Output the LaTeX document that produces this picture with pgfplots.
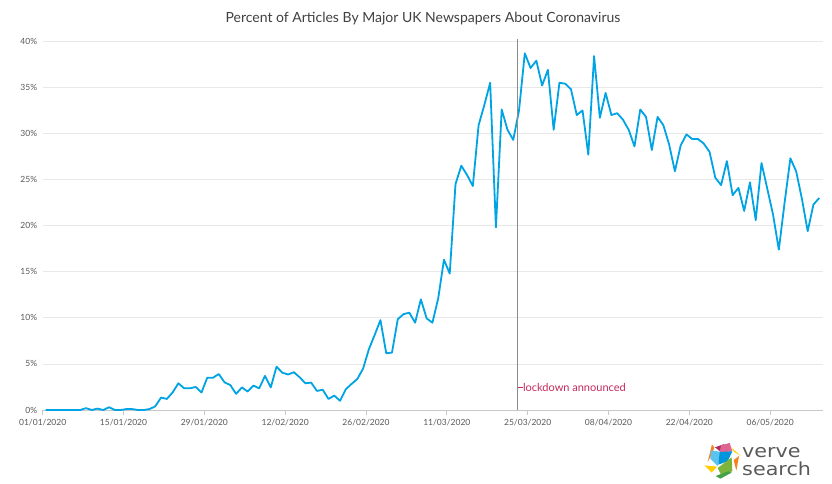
\documentclass[border=0pt]{standalone}
\usepackage{pgfplots}
\pgfplotsset{compat=1.18}
\usepackage{fontspec}
\setmainfont{Lato}
\newfontfamily\logofont{DejaVu Sans}
\definecolor{lineblue}{RGB}{0,163,228}
\definecolor{titlegray}{RGB}{64,64,64}
\definecolor{tickgray}{RGB}{89,89,89}
\definecolor{gridgray}{RGB}{232,232,232}
\definecolor{axisgray}{RGB}{200,200,200}
\definecolor{lockred}{RGB}{196,40,90}
\definecolor{vorange}{RGB}{245,130,32}
\definecolor{vmagenta}{RGB}{176,40,100}
\definecolor{vpink}{RGB}{222,100,150}
\definecolor{vyellow}{RGB}{255,205,0}
\definecolor{vlblue}{RGB}{90,195,240}
\definecolor{vblue}{RGB}{0,150,220}
\definecolor{vgreen}{RGB}{125,180,60}
\definecolor{vdgreen}{RGB}{70,160,70}
\begin{document}
\begin{tikzpicture}
\useasboundingbox (0,0) rectangle (832pt,484pt);
\node[text=titlegray, font=\fontsize{14}{16}\selectfont] at (423pt,465pt) {Percent of Articles By Major UK Newspapers About Coronavirus};
\begin{axis}[
  at={(42.7pt,74pt)}, anchor=south west,
  scale only axis, width=780pt, height=368.7pt,
  xmin=0, xmax=135.1, ymin=0, ymax=40,
  axis x line*=bottom, axis y line*=left,
  y axis line style={draw=none},
  x axis line style={draw=axisgray, line width=0.8pt},
  xtick={0,14,28,42,56,70,84,98,112,126},
  xticklabels={01/01/2020,15/01/2020,29/01/2020,12/02/2020,26/02/2020,11/03/2020,25/03/2020,08/04/2020,22/04/2020,06/05/2020},
  ytick={0,5,10,15,20,25,30,35,40},
  yticklabels={0\%,5\%,10\%,15\%,20\%,25\%,30\%,35\%,40\%},
  xtick align=outside,
  major tick length=5pt,
  x tick style={draw=axisgray, line width=0.8pt},
  y tick style={draw=none},
  ymajorgrids, grid style={draw=gridgray, line width=0.8pt},
  tick label style={text=tickgray, font=\fontsize{8.5}{10}\selectfont},
  yticklabel style={anchor=east, xshift=-2pt},
  xticklabel style={yshift=-1pt},
  /pgf/number format/assume math mode=true,
  clip=false,
]
\addplot[lineblue, line width=1.8pt, line join=round] table {
x y
0.5 0
1.5 0
2.5 0
3.5 0
4.5 0
5.5 0
6.5 0
7.5 0.2
8.5 0
9.5 0.15
10.5 0
11.5 0.3
12.5 0
13.5 0
14.5 0.1
15.5 0.1
16.5 0
17.5 0
18.5 0.1
19.5 0.4
20.5 1.35
21.5 1.2
22.5 1.9
23.5 2.9
24.5 2.35
25.5 2.35
26.5 2.5
27.5 1.9
28.5 3.5
29.5 3.5
30.5 3.9
31.5 3.0
32.5 2.7
33.5 1.75
34.5 2.45
35.5 2.0
36.5 2.65
37.5 2.35
38.5 3.7
39.5 2.45
40.5 4.7
41.5 4.05
42.5 3.85
43.5 4.1
44.5 3.55
45.5 2.9
46.5 2.97
47.5 2.07
48.5 2.2
49.5 1.2
50.5 1.56
51.5 1.0
52.5 2.25
53.5 2.83
54.5 3.37
55.5 4.5
56.5 6.6
57.5 8.15
58.5 9.75
59.5 6.16
60.5 6.23
61.5 9.85
62.5 10.4
63.5 10.56
64.5 9.47
65.5 12.0
66.5 9.94
67.5 9.47
68.5 12.1
69.5 16.3
70.5 14.8
71.5 24.5
72.5 26.5
73.5 25.5
74.5 24.3
75.5 30.9
76.5 33.1
77.5 35.5
78.5 19.8
79.5 32.6
80.5 30.4
81.5 29.3
82.5 32.5
83.5 38.7
84.5 37.1
85.5 37.9
86.5 35.2
87.5 36.9
88.5 30.4
89.5 35.5
90.5 35.4
91.5 34.8
92.5 32.0
93.5 32.5
94.5 27.7
95.5 38.4
96.5 31.7
97.5 34.4
98.5 32.0
99.5 32.2
100.5 31.5
101.5 30.4
102.5 28.6
103.5 32.6
104.5 31.8
105.5 28.2
106.5 31.8
107.5 30.9
108.5 28.8
109.5 25.9
110.5 28.7
111.5 29.9
112.5 29.4
113.5 29.4
114.5 28.9
115.5 28.0
116.5 25.2
117.5 24.4
118.5 27.0
119.5 23.3
120.5 24.1
121.5 21.6
122.5 24.7
123.5 20.6
124.5 26.8
125.5 24.0
126.5 21.2
127.5 17.4
128.5 22.5
129.5 27.3
130.5 25.9
131.5 22.9
132.5 19.4
133.5 22.3
134.5 23.0
};
\draw[black!45, line width=0.7pt] (axis cs:82.25,0) -- (axis cs:82.25,40.3);
\draw[lockred, line width=0.6pt] (axis cs:82.25,2.46) -- (axis cs:83.15,2.46)
  node[anchor=west, inner sep=0pt, text=lockred, font=\fontsize{11}{12}\selectfont] {lockdown announced};
\end{axis}
% logo
\begin{scope}[shift={(695pt,52pt)}, x=0.3333pt, y=-0.3333pt]
\fill[vorange] (38,90) -- (51,37) -- (58,47) -- (48,72) -- cycle;
\fill[vmagenta] (60,46) -- (88,36) -- (75,58) -- cycle;
\fill[vpink] (78,40) -- (104,33) -- (112,58) -- (74,62) -- cycle;
\fill[vyellow] (106,44) -- (138,72) -- (118,60) -- cycle;
\fill[vlblue] (48,55) -- (80,60) -- (68,102) -- (46,80) -- cycle;
\fill[vblue] (74,60) -- (112,58) -- (98,88) -- (70,98) -- cycle;
\fill[vyellow] (28,100) -- (66,104) -- (50,122) -- cycle;
\fill[vgreen] (68,108) -- (110,76) -- (112,118) -- (78,128) -- cycle;
\fill[vdgreen] (62,132) -- (100,118) -- (110,122) -- (76,140) -- cycle;
\fill[vorange] (116,84) -- (132,72) -- (124,116) -- cycle;
\end{scope}
\node[anchor=base west, inner sep=0pt, xscale=1.15, transform shape, text=black!65, font=\logofont\fontsize{18}{18}\selectfont] at (742pt,26pt) {verve};
\node[anchor=base west, inner sep=0pt, xscale=1.15, transform shape, text=black!65, font=\logofont\fontsize{18}{18}\selectfont] at (742pt,8pt) {search};
\end{tikzpicture}
\end{document}
